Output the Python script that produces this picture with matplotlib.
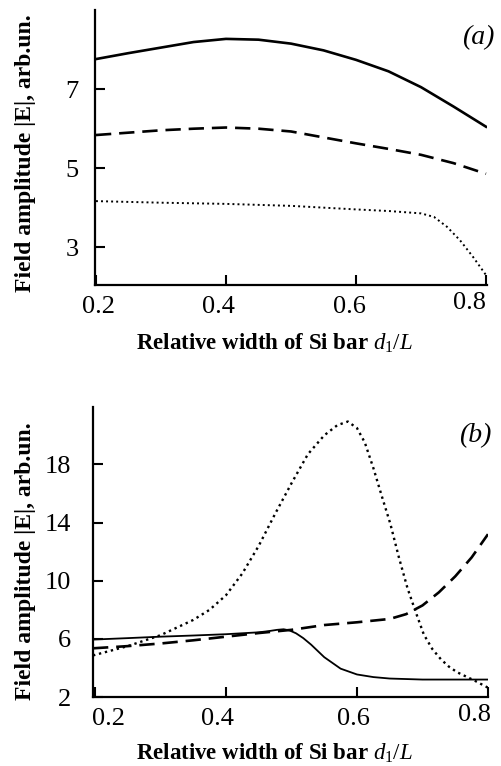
import matplotlib
matplotlib.use("Agg")
import matplotlib.pyplot as plt
import matplotlib.transforms as mtransforms

plt.rcParams["font.family"] = ["Liberation Serif", "DejaVu Serif"]
plt.rcParams["mathtext.fontset"] = "custom"
plt.rcParams["mathtext.rm"] = "Liberation Serif"
plt.rcParams["mathtext.it"] = "Liberation Serif:italic"

# panel (a)
xa_solid = [0.2, 0.25, 0.3, 0.35, 0.4, 0.45, 0.5, 0.55, 0.6, 0.65, 0.7, 0.75, 0.8]
ya_solid = [7.76, 7.91, 8.05, 8.19, 8.27, 8.25, 8.15, 7.98, 7.74, 7.45, 7.05, 6.56, 6.05]
xa_dash = [0.2, 0.25, 0.3, 0.35, 0.4, 0.45, 0.5, 0.55, 0.6, 0.65, 0.7, 0.75, 0.8]
ya_dash = [5.84, 5.90, 5.96, 6.0, 6.03, 6.0, 5.93, 5.78, 5.63, 5.49, 5.34, 5.13, 4.86]
xa_dot = [0.2, 0.3, 0.4, 0.5, 0.6, 0.65, 0.7, 0.72, 0.74, 0.76, 0.78, 0.8]
ya_dot = [4.17, 4.13, 4.10, 4.05, 3.96, 3.92, 3.86, 3.77, 3.52, 3.18, 2.76, 2.30]

# panel (b)
xb_solid = [0.197, 0.25, 0.3, 0.35, 0.4, 0.45, 0.465, 0.478, 0.488, 0.497, 0.507,
            0.518, 0.53, 0.55, 0.575, 0.6, 0.625, 0.65, 0.7, 0.75, 0.8]
yb_solid = [5.95, 6.05, 6.15, 6.23, 6.32, 6.45, 6.53, 6.62, 6.66, 6.58, 6.38,
            6.05, 5.6, 4.74, 3.95, 3.55, 3.37, 3.27, 3.2, 3.2, 3.2]
xb_dash = [0.197, 0.25, 0.3, 0.35, 0.4, 0.45, 0.5, 0.55, 0.6, 0.65, 0.675, 0.7,
           0.725, 0.75, 0.775, 0.8]
yb_dash = [5.35, 5.5, 5.68, 5.9, 6.15, 6.4, 6.62, 6.95, 7.14, 7.37, 7.7, 8.3,
           9.2, 10.3, 11.6, 13.2]
xb_dot = [0.197, 0.25, 0.3, 0.35, 0.375, 0.4, 0.425, 0.45, 0.475, 0.5, 0.525, 0.55,
          0.57, 0.586, 0.6, 0.612, 0.625, 0.638, 0.651, 0.664, 0.677, 0.69, 0.702,
          0.715, 0.728, 0.74, 0.753, 0.779, 0.8]
yb_dot = [4.86, 5.5, 6.25, 7.3, 8.0, 9.0, 10.5, 12.4, 14.6, 16.7, 18.7, 20.0,
          20.7, 20.95, 20.5, 19.5, 17.75, 15.8, 13.9, 11.6, 9.5, 7.8, 6.3,
          5.3, 4.6, 4.1, 3.7, 3.14, 2.64]

xticks = [0.2, 0.4, 0.6, 0.8]
xticklabels = ["0.2", "0.4", "0.6", "0.8"]
yticks_a = [3, 5, 7]
yticks_b = [2, 6, 10, 14, 18]

W, H = 501, 766
fig = plt.figure(figsize=(W / 100, H / 100), dpi=100)


def style(ax, ypad, shifts):
    for s in ["top", "right"]:
        ax.spines[s].set_visible(False)
    for s in ["left", "bottom"]:
        ax.spines[s].set_linewidth(1.6)
    ax.tick_params(axis="both", direction="in", length=7, width=1.5, labelsize=19)
    ax.tick_params(axis="y", pad=ypad)
    ax.tick_params(axis="x", pad=8)
    ax.set_xticks(xticks)
    ax.set_xticklabels(xticklabels)
    # tick labels in the original sit a bit off their ticks
    for lab, (dx, dy) in zip(ax.get_xticklabels(), shifts):
        off = mtransforms.ScaledTranslation(dx / 100, dy / 100, fig.dpi_scale_trans)
        lab.set_transform(lab.get_transform() + off)


ax1 = fig.add_axes([95 / W, 1 - 285 / H, 392 / W, 275 / H])
ax1.plot(xa_solid, ya_solid, color="black", lw=1.9)
ax1.plot(xa_dash, ya_dash, color="black", lw=1.9, dashes=(5.8, 3))
ax1.plot(xa_dot, ya_dot, color="black", lw=1.4, dashes=(1, 1.6))
ax1.set_xlim(0.1985, 0.8015)
ax1.set_ylim(2.05, 9.0)
ax1.set_yticks(yticks_a)
style(ax1, 12, [(3, 0), (-8, 0), (-7, 0), (-17, 4)])
ax1.text(478 / W, 1 - 38 / H, "(a)", transform=fig.transFigure, fontsize=20,
         style="italic", ha="center", va="center")

ax2 = fig.add_axes([93 / W, 1 - 697 / H, 395 / W, 290 / H])
ax2.plot(xb_solid, yb_solid, color="black", lw=1.3)
ax2.plot(xb_dash, yb_dash, color="black", lw=1.9, dashes=(5.8, 3))
ax2.plot(xb_dot, yb_dot, color="black", lw=1.7, dashes=(1, 1.6))
ax2.set_xlim(0.197, 0.8)
ax2.set_ylim(2.0, 21.95)
ax2.set_yticks(yticks_b)
style(ax2, 16, [(14, 0), (-9, 0), (-4, 0), (-14, 4)])
ax2.text(475 / W, 1 - 436 / H, "(b)", transform=fig.transFigure, fontsize=20,
         style="italic", ha="center", va="center")

ylab = "Field amplitude |E|, arb.un."
xlab = r"Relative width of Si bar $d_{\mathit{1}}/L$"
fig.text(26 / W, 1 - 153 / H, ylab, rotation=90, ha="center", va="center",
         fontsize=17, fontweight="bold")
fig.text(26 / W, 1 - 561 / H, ylab, rotation=90, ha="center", va="center",
         fontsize=17, fontweight="bold")
fig.text(274 / W, 1 - 350 / H, xlab, ha="center", va="baseline",
         fontsize=16.5, fontweight="bold")
fig.text(274 / W, 1 - 760 / H, xlab, ha="center", va="baseline",
         fontsize=16.5, fontweight="bold")

fig.savefig("out.png", dpi=100)
